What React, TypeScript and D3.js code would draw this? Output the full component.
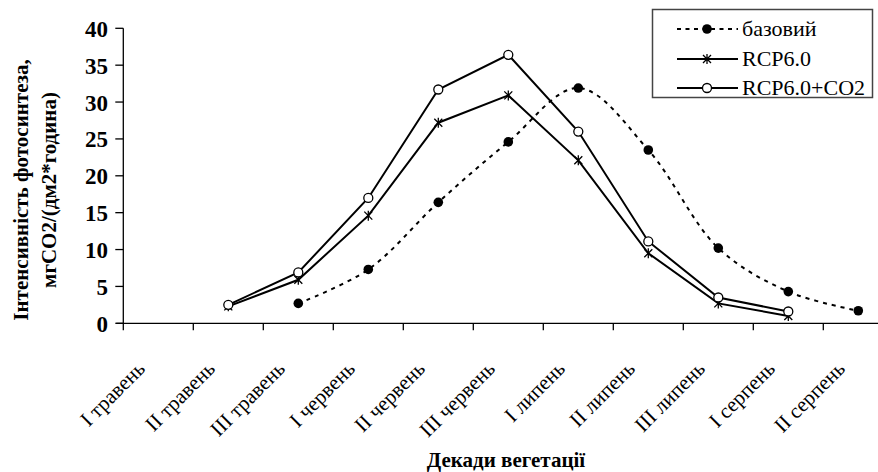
import React from "react";
import * as d3 from "d3";

const decades = [
  "I травень",
  "II травень",
  "III травень",
  "I червень",
  "II червень",
  "III червень",
  "I липень",
  "II липень",
  "III липень",
  "I серпень",
  "II серпень",
];

const baseValues: (number | null)[] = [null, null, 2.7, 7.3, 16.4, 24.6, 31.9, 23.5, 10.2, 4.3, 1.7];
const rcpValues: (number | null)[] = [null, 2.3, 5.9, 14.6, 27.2, 30.9, 22.1, 9.5, 2.7, 1.0, null];
const rcpCo2Values: (number | null)[] = [null, 2.5, 6.9, 17.0, 31.7, 36.4, 26.0, 11.1, 3.5, 1.6, null];

const yTicks = [0, 5, 10, 15, 20, 25, 30, 35, 40];

const W = 878;
const H = 472;
const FONT = "Liberation Serif";

type Pt = { c: string; v: number };

function points(vals: (number | null)[]): Pt[] {
  return decades
    .map((c, i) => ({ c, v: vals[i] }))
    .filter((d) => d.v !== null) as Pt[];
}

const starPath = "M-4,-4L4,4M-4,4L4,-4M0,-5L0,5";

export default function App() {
  const left = 123.3;
  const x = d3.scaleBand<string>().domain(decades).range([left, left + 70 * decades.length]);
  const y = d3.scaleLinear().domain([0, 40]).range([323.3, 28.3]);
  const cx = (c: string) => (x(c) ?? 0) + x.bandwidth() / 2;

  const straight = d3
    .line<Pt>()
    .x((d) => cx(d.c))
    .y((d) => y(d.v));
  const smooth = d3
    .line<Pt>()
    .x((d) => cx(d.c))
    .y((d) => y(d.v))
    .curve(d3.curveCatmullRom.alpha(0.5));

  const base = points(baseValues);
  const rcp = points(rcpValues);
  const co2 = points(rcpCo2Values);

  const bottom = y(0);

  return (
    <svg width={W} height={H} style={{ position: "absolute", left: 0, top: 0, background: "#fff" }}>
      {/* axes */}
      <line x1={left} x2={left} y1={y(40)} y2={bottom} stroke="#000" strokeWidth={1.3} />
      <line x1={left - 7} x2={W} y1={bottom} y2={bottom} stroke="#000" strokeWidth={1.3} />
      {yTicks.map((t) => (
        <g key={t}>
          <line x1={left - 8} x2={left} y1={y(t)} y2={y(t)} stroke="#000" strokeWidth={1.3} />
          <text x={108} y={y(t) + 8.5} textAnchor="end" fontSize={23} fontWeight="bold" fontFamily={FONT}>
            {t}
          </text>
        </g>
      ))}
      {decades.map((c) => (
        <line key={c} x1={x(c) ?? 0} x2={x(c) ?? 0} y1={bottom} y2={bottom + 7} stroke="#000" strokeWidth={1.3} />
      ))}
      {decades.map((c) => (
        <text
          key={c}
          transform={`translate(${cx(c) - 12},370) rotate(-45)`}
          textAnchor="end"
          fontSize={21}
          fontFamily={FONT}
        >
          {c}
        </text>
      ))}

      {/* axis titles */}
      <text x={506} y={467} textAnchor="middle" fontSize={21} fontWeight="bold" fontFamily={FONT}>
        Декади вегетації
      </text>
      <text transform="translate(28,190) rotate(-90)" textAnchor="middle" fontSize={21} fontWeight="bold" fontFamily={FONT}>
        Інтенсивність фотосинтеза,
      </text>
      <text transform="translate(56,190) rotate(-90)" textAnchor="middle" fontSize={21} fontWeight="bold" fontFamily={FONT}>
        мгCO2/(дм2*година)
      </text>

      {/* series */}
      <path d={smooth(base) ?? ""} fill="none" stroke="#000" strokeWidth={2} strokeDasharray="4,5" />
      <path d={straight(rcp) ?? ""} fill="none" stroke="#000" strokeWidth={2} />
      <path d={straight(co2) ?? ""} fill="none" stroke="#000" strokeWidth={2} />
      {base.map((d) => (
        <circle key={d.c} cx={cx(d.c)} cy={y(d.v)} r={4.8} fill="#000" />
      ))}
      {rcp.map((d) => (
        <path
          key={d.c}
          d={starPath}
          transform={`translate(${cx(d.c)},${y(d.v)})`}
          stroke="#000"
          strokeWidth={1.3}
          fill="none"
        />
      ))}
      {co2.map((d) => (
        <circle key={d.c} cx={cx(d.c)} cy={y(d.v)} r={4.5} fill="#fff" stroke="#000" strokeWidth={1.3} />
      ))}

      {/* legend */}
      <rect x={652.5} y={9.5} width={220} height={88} fill="#fff" stroke="#444" strokeWidth={1.5} />
      <line x1={677} x2={738} y1={29} y2={29} stroke="#000" strokeWidth={2} strokeDasharray="4,4.5" />
      <circle cx={707} cy={29} r={4.8} fill="#000" />
      <text x={742} y={36} fontSize={22} fontFamily={FONT}>
        базовий
      </text>
      <line x1={677} x2={738} y1={59} y2={59} stroke="#000" strokeWidth={2} />
      <path d={starPath} transform="translate(707,59)" stroke="#000" strokeWidth={1.3} fill="none" />
      <text x={742} y={66} fontSize={22} fontFamily={FONT}>
        RCP6.0
      </text>
      <line x1={677} x2={738} y1={88} y2={88} stroke="#000" strokeWidth={2} />
      <circle cx={707} cy={88} r={4.5} fill="#fff" stroke="#000" strokeWidth={1.3} />
      <text x={742} y={95} fontSize={22} fontFamily={FONT}>
        RCP6.0+CO2
      </text>
    </svg>
  );
}
